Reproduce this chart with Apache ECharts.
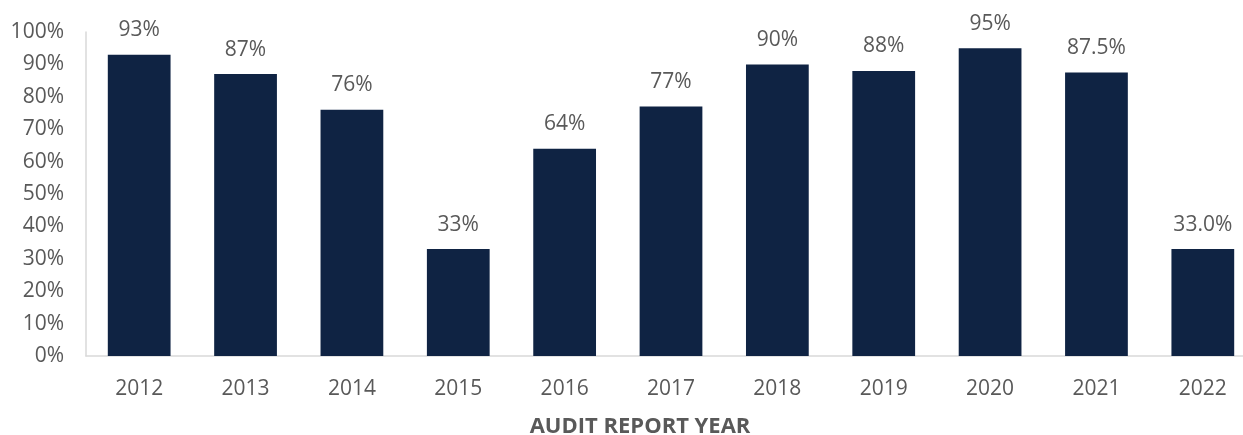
<!DOCTYPE html>
<html>
<head>
<meta charset="utf-8">
<script src="https://cdn.jsdelivr.net/npm/echarts@6/dist/echarts.min.js"></script>
<style>
  html, body { margin: 0; padding: 0; background: #ffffff; }
  #chart { width: 1243px; height: 435px; }
</style>
</head>
<body>
<div id="chart"></div>
<script>
// Audit report years and their compliance percentages
const years = ['2012', '2013', '2014', '2015', '2016', '2017', '2018', '2019', '2020', '2021', '2022'];
const values = [93, 87, 76, 33, 64, 77, 90, 88, 95, 87.5, 33.0];
const valueLabels = ['93%', '87%', '76%', '33%', '64%', '77%', '90%', '88%', '95%', '87.5%', '33.0%'];
const yTicks = [0, 10, 20, 30, 40, 50, 60, 70, 80, 90, 100];

const FONT = '"Open Sans", "Noto Sans", sans-serif';
const GREY = '#595959';

const chart = echarts.init(document.getElementById('chart'), null, { renderer: 'canvas' });
chart.setOption({
  animation: false,
  backgroundColor: '#ffffff',
  grid: { left: 86, right: -13, top: 32, bottom: 79, containLabel: false, outerBoundsMode: 'none' },
  xAxis: {
    type: 'category',
    data: years,
    name: 'AUDIT REPORT YEAR',
    nameLocation: 'middle',
    nameGap: 60,
    nameTextStyle: {
      fontFamily: FONT, fontSize: 22, fontWeight: 'bold', color: GREY,
      padding: [0, 62, 0, 0]
    },
    axisLine: { show: true, lineStyle: { color: '#d9d9d9', width: 1.5 } },
    axisTick: { show: false },
    axisLabel: { fontFamily: FONT, fontSize: 21, color: GREY, margin: 23 }
  },
  yAxis: {
    type: 'value',
    min: yTicks[0],
    max: yTicks[yTicks.length - 1],
    interval: 10,
    axisLine: { show: true, lineStyle: { color: '#d9d9d9', width: 1.5 } },
    axisTick: { show: false },
    splitLine: { show: false },
    axisLabel: { fontFamily: FONT, fontSize: 21, color: GREY, margin: 22, formatter: v => Math.round(v) + '%' }
  },
  series: [{
    type: 'bar',
    data: values,
    barWidth: '59%',
    itemStyle: { color: '#0f2343' },
    label: {
      show: true,
      position: 'top',
      distance: 14,
      fontFamily: FONT,
      fontSize: 21,
      color: GREY,
      formatter: p => valueLabels[p.dataIndex]
    }
  }]
});
</script>
</body>
</html>
